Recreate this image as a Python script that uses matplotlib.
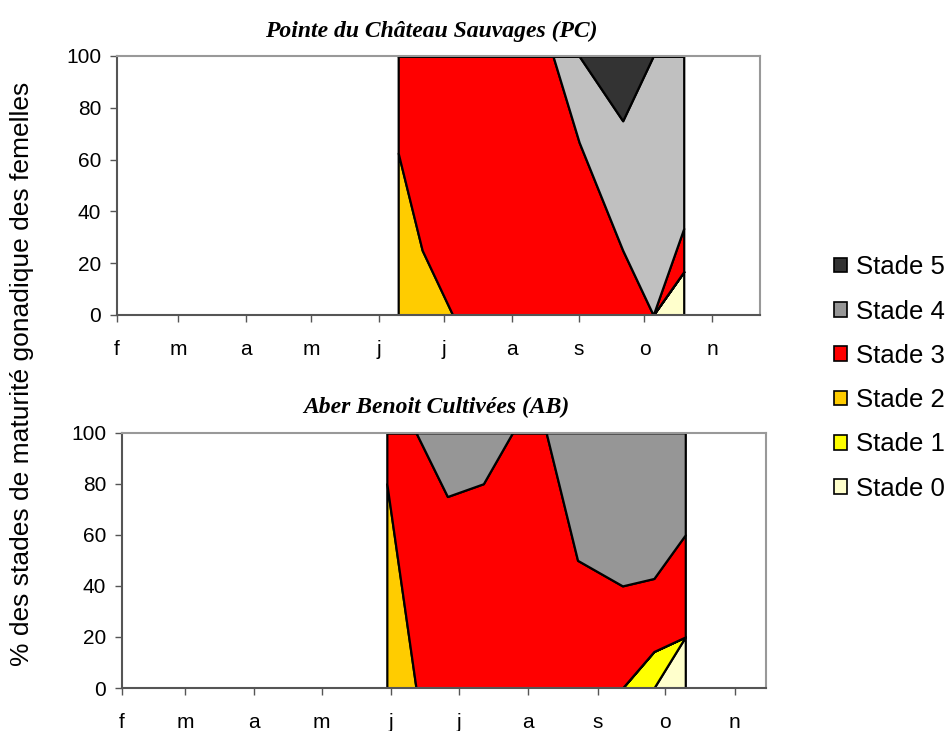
import datetime as dt
import matplotlib
matplotlib.use("Agg")
import matplotlib.pyplot as plt
from matplotlib.patches import Patch

plt.rcParams["font.family"] = ["Liberation Sans", "DejaVu Sans"]

# Pointe du Château Sauvages (PC)
pc_dates = ["2003-06-10", "2003-06-21", "2003-07-05", "2003-08-20",
            "2003-09-01", "2003-09-21", "2003-10-05", "2003-10-19"]
pc_s0 = [0, 0, 0, 0, 0, 0, 0, 16.7]
pc_s1 = [0, 0, 0, 0, 0, 0, 0, 0]
pc_s2 = [62.5, 25, 0, 0, 0, 0, 0, 0]
pc_s3 = [37.5, 75, 100, 100, 66.7, 25, 0, 16.7]
pc_s4 = [0, 0, 0, 0, 33.3, 50, 100, 66.6]
pc_s5 = [0, 0, 0, 0, 0, 25, 0, 0]

# Aber Benoit Cultivées (AB)
ab_dates = ["2003-05-30", "2003-06-12", "2003-06-26", "2003-07-12", "2003-07-25",
            "2003-08-09", "2003-08-23", "2003-09-12", "2003-09-26", "2003-10-10"]
ab_s0 = [0, 0, 0, 0, 0, 0, 0, 0, 0, 20]
ab_s1 = [0, 0, 0, 0, 0, 0, 0, 0, 14.3, 0]
ab_s2 = [80, 0, 0, 0, 0, 0, 0, 0, 0, 0]
ab_s3 = [20, 100, 75, 80, 100, 100, 50, 40, 28.6, 40]
ab_s4 = [0, 0, 25, 20, 0, 0, 50, 60, 57.1, 40]
ab_s5 = [0, 0, 0, 0, 0, 0, 0, 0, 0, 0]

months = ["f", "m", "a", "m", "j", "j", "a", "s", "o", "n"]
labels = ["Stade 0", "Stade 1", "Stade 2", "Stade 3", "Stade 4", "Stade 5"]

col_pc = ["#FFFFCC", "#FFFF00", "#FFCC00", "#FF0000", "#C0C0C0", "#333333"]
col_ab = ["#FFFFCC", "#FFFF00", "#FFCC00", "#FF0000", "#969696", "#333333"]

fig = plt.figure(figsize=(9.46, 7.31), dpi=100)
ax1 = fig.add_axes([0.1237, 0.5691, 0.6797, 0.3543])
ax2 = fig.add_axes([0.1290, 0.0588, 0.6808, 0.3493])


def draw(ax, dates, series, colors, title, xmax):
    d = [dt.datetime.strptime(s, "%Y-%m-%d") for s in dates]
    ax.stackplot(d, *series, colors=colors, edgecolor="black", linewidth=1.6)
    ax.set_xlim(dt.datetime(2003, 2, 1), xmax)
    ax.set_ylim(0, 100)
    ax.set_yticks([0, 20, 40, 60, 80, 100])
    ticks = [dt.datetime(2003, m, 1) for m in range(2, 12)]
    ax.set_xticks(ticks)
    ax.set_xticklabels(months)
    ax.tick_params(axis="both", labelsize=15, length=5, width=1, color="#555555")
    ax.tick_params(axis="x", pad=13)
    ax.tick_params(axis="y", pad=6.5)
    for s in ["left", "bottom"]:
        ax.spines[s].set_color("#555555")
        ax.spines[s].set_linewidth(1.5)
    for s in ["top", "right"]:
        ax.spines[s].set_color("#999999")
        ax.spines[s].set_linewidth(1.5)
    ax.set_title(title, fontfamily="Liberation Serif", fontweight="bold",
                 fontstyle="italic", fontsize=17, pad=14, x=0.488)


draw(ax1, pc_dates, [pc_s0, pc_s1, pc_s2, pc_s3, pc_s4, pc_s5], col_pc,
     "Pointe du Château Sauvages (PC)", dt.datetime(2003, 11, 23))
draw(ax2, ab_dates, [ab_s0, ab_s1, ab_s2, ab_s3, ab_s4, ab_s5], col_ab,
     "Aber Benoit Cultivées (AB)", dt.datetime(2003, 11, 15))

fig.text(22 / 946, 1 - 374 / 731, "% des stades de maturité gonadique des femelles",
         rotation=90, ha="center", va="center", fontsize=19)

handles = [Patch(facecolor=c, edgecolor="black", linewidth=1.2) for c in col_ab]
fig.legend(handles[::-1], labels[::-1], loc="center left",
           bbox_to_anchor=(811 / 946, 1 - 378 / 731), frameon=False, fontsize=18.5,
           handlelength=0.5, handleheight=0.5, handletextpad=0.35, labelspacing=0.79)

fig.savefig("out.png", dpi=100)
